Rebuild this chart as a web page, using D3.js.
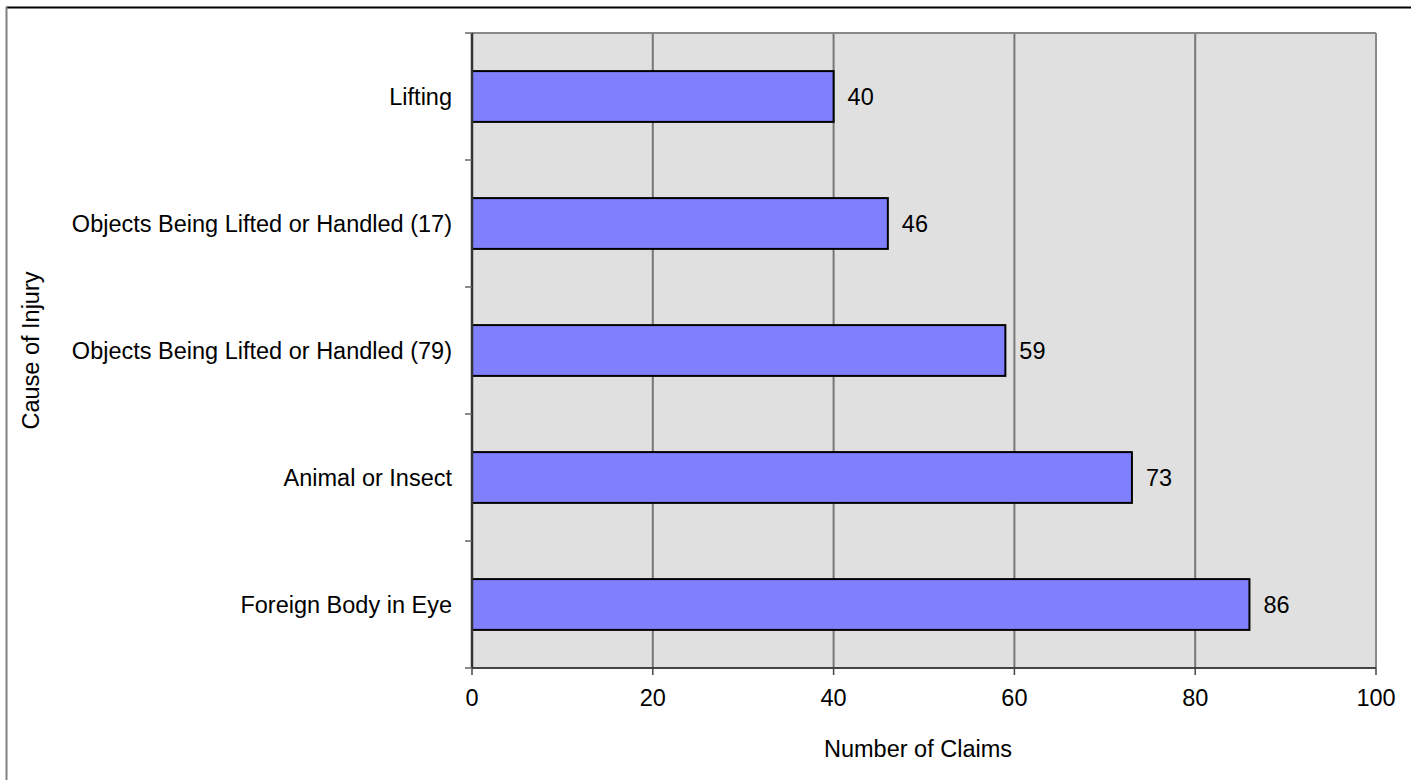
<!DOCTYPE html>
<meta charset="utf-8">
<style>
  body { margin: 0; background: #fff; }
  svg { font-family: "Liberation Sans", Arial, sans-serif; font-size: 23.5px; }
</style>
<body>
<div id="chart"></div>
<script src="https://d3js.org/d3.v7.min.js"></script>
<script>
// data (top to bottom)
var causes = ["Lifting", "Objects Being Lifted or Handled (17)", "Objects Being Lifted or Handled (79)", "Animal or Insect", "Foreign Body in Eye"];
var claims = [40, 46, 59, 73, 86];
var xTicks = [0, 20, 40, 60, 80, 100];

var W = 1411, H = 780;
var m = {top: 33, right: 35, bottom: 112, left: 472};
var w = 1376 - m.left, h = 668 - m.top;

var svg = d3.select("#chart").append("svg")
    .attr("width", W)
    .attr("height", H);

// outer frame
svg.append("line").attr("x1", 6).attr("x2", W).attr("y1", 7.5).attr("y2", 7.5)
    .attr("stroke", "#000").attr("stroke-width", 2);
svg.append("line").attr("x1", 6.5).attr("x2", 6.5).attr("y1", 7).attr("y2", H)
    .attr("stroke", "#808080").attr("stroke-width", 2);

var g = svg.append("g").attr("transform", "translate(" + m.left + "," + m.top + ")");

var x = d3.scaleLinear().domain([0, 100]).range([0, w]);
var y = d3.scaleBand().domain(causes).range([0, h]).paddingInner(0.6).paddingOuter(0.3);

// plot background
g.append("rect").attr("width", w).attr("height", h).attr("fill", "#e0e0e0");

// grid lines
g.selectAll(".grid").data(xTicks.filter(function(d) { return d > 0 && d < 100; }))
  .enter().append("line")
    .attr("x1", function(d) { return x(d); })
    .attr("x2", function(d) { return x(d); })
    .attr("y1", 0).attr("y2", h)
    .attr("stroke", "#777").attr("stroke-width", 2);

// plot border top & right
g.append("line").attr("x1", 0).attr("x2", w).attr("y1", 0).attr("y2", 0)
    .attr("stroke", "#888").attr("stroke-width", 2);
g.append("line").attr("x1", w).attr("x2", w).attr("y1", 0).attr("y2", h)
    .attr("stroke", "#888").attr("stroke-width", 2);

// bars
var data = causes.map(function(c, i) { return {cause: c, value: claims[i]}; });

g.selectAll(".bar").data(data).enter().append("rect")
    .attr("x", 0)
    .attr("y", function(d) { return y(d.cause); })
    .attr("width", function(d) { return x(d.value); })
    .attr("height", y.bandwidth())
    .attr("fill", "#8080ff")
    .attr("stroke", "#000")
    .attr("stroke-width", 2);

// value labels
g.selectAll(".val").data(data).enter().append("text")
    .attr("x", function(d) { return x(d.value) + 14; })
    .attr("y", function(d) { return y(d.cause) + y.bandwidth() / 2; })
    .attr("dy", "0.35em")
    .attr("fill", "#000")
    .text(function(d) { return d.value; });

// x axis
var xAxis = g.append("g").attr("transform", "translate(0," + h + ")");
xAxis.append("line").attr("x1", 0).attr("x2", w).attr("stroke", "#444").attr("stroke-width", 2);
xAxis.selectAll(".tick").data(xTicks).enter().append("line")
    .attr("x1", function(d) { return x(d); }).attr("x2", function(d) { return x(d); })
    .attr("y1", 0).attr("y2", 7)
    .attr("stroke", "#444").attr("stroke-width", 1.5);
xAxis.selectAll(".lbl").data(xTicks).enter().append("text")
    .attr("x", function(d) { return x(d); })
    .attr("y", 38)
    .attr("text-anchor", "middle")
    .text(function(d) { return d; });

// y axis
var yAxis = g.append("g");
yAxis.append("line").attr("x1", 0).attr("x2", 0).attr("y1", 0).attr("y2", h)
    .attr("stroke", "#333").attr("stroke-width", 2.5);
var bounds = d3.range(causes.length + 1).map(function(i) { return i * y.step(); });
yAxis.selectAll(".tick").data(bounds).enter().append("line")
    .attr("x1", -7).attr("x2", 0)
    .attr("y1", function(d) { return d; }).attr("y2", function(d) { return d; })
    .attr("stroke", "#666").attr("stroke-width", 1.5);
yAxis.selectAll(".lbl").data(causes).enter().append("text")
    .attr("x", -20)
    .attr("y", function(d) { return y(d) + y.bandwidth() / 2; })
    .attr("dy", "0.35em")
    .attr("text-anchor", "end")
    .text(function(d) { return d; });

// axis titles
svg.append("text")
    .attr("x", m.left + w / 2 - 6)
    .attr("y", 757)
    .attr("text-anchor", "middle")
    .text("Number of Claims");

svg.append("text")
    .attr("transform", "translate(39," + (m.top + h / 2) + ") rotate(-90)")
    .attr("text-anchor", "middle")
    .text("Cause of Injury");
</script>
</body>
